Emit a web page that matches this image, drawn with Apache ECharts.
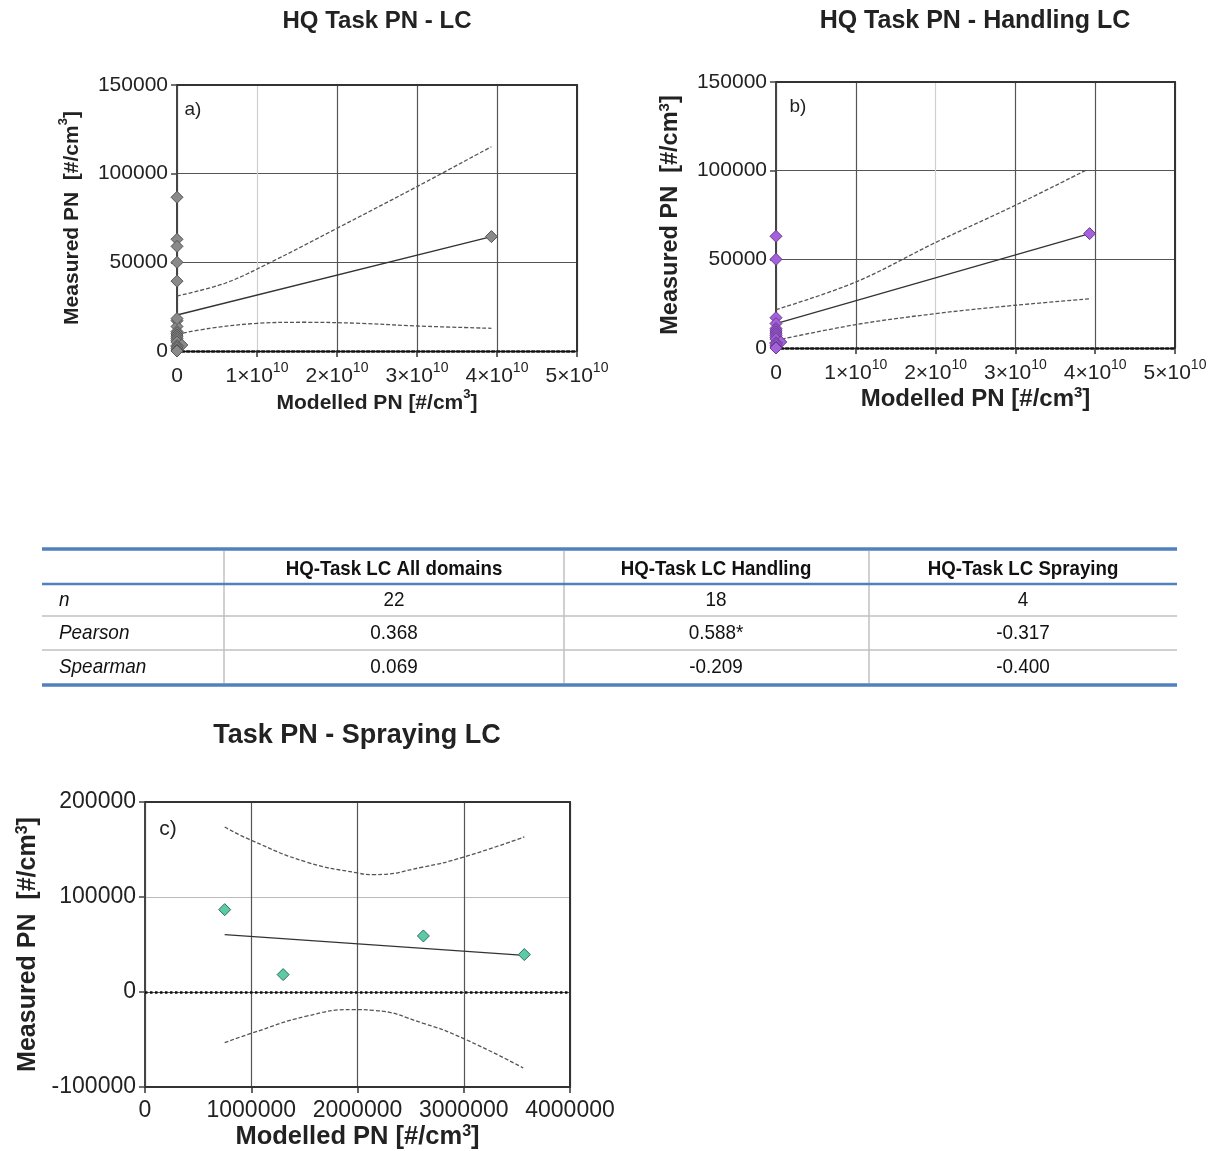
<!DOCTYPE html>
<html><head><meta charset="utf-8">
<script src="https://cdn.jsdelivr.net/npm/echarts@6/dist/echarts.min.js"></script>
<style>html,body{margin:0;padding:0;background:#fff;}#c{width:1218px;height:1151px;}</style>
</head><body><div id="c"></div>
<script>
// ---------- DATA ----------
// Chart b (Handling LC): modelled PN, measured PN
const handlingModelled = [3.93e10, 0, 0, 0, 0, 0, 0, 0, 0, 0, 0, 0, 6e8, 0, 0, 0, 0, 0];
const handlingMeasured = [64500, 63000, 50000, 17100, 13800, 11000, 10000, 9000, 8000, 7000, 6000, 5000, 3400, 3000, 2500, 1500, 500, 0];
// Chart c (Spraying LC)
const sprayModelled = [750000, 1300000, 2620000, 3570000];
const sprayMeasured = [86700, 18300, 59000, 39400];
// Regression lines and confidence bands
const regA = [[0, 20300], [3.93e10, 64500]];
const upperA = [[0, 31000], [0.6e10, 38200], [1.16e10, 49800], [2e10, 69200], [3e10, 92700], [3.93e10, 115200]];
const lowerA = [[0, 9400], [0.41e10, 12800], [1e10, 15600], [1.6e10, 16200], [2.29e10, 15600], [3e10, 14100], [3.93e10, 12800]];
const regB = [[0, 13750], [3.93e10, 64500]];
const upperB = [[0, 21600], [1e10, 37200], [2e10, 59500], [3e10, 80500], [3.9e10, 100600]];
const lowerB = [[0, 4300], [1e10, 13200], [2e10, 19400], [3e10, 24100], [3.95e10, 27800]];
const regC = [[750000, 60400], [3570000, 38600]];
const upperC = [[750000, 173700], [1000000, 159700], [1520000, 136800], [2000000, 125300], [2150000, 123600], [2620000, 131600], [3000000, 142100], [3570000, 163200]];
const lowerC = [[750000, -53300], [1000000, -43500], [1520000, -25500], [1960000, -18500], [2150000, -19300], [2620000, -33000], [3000000, -49100], [3560000, -80000]];
// Tick labels
const xTickLabelsAB = ['0', '1×10', '2×10', '3×10', '4×10', '5×10'];
const xTickExpAB = ['', '10', '10', '10', '10', '10'];
// Titles
const chartTitles = ['HQ Task PN - LC', 'HQ Task PN - Handling LC', 'Task PN - Spraying LC'];
const panelLetters = ['a)', 'b)', 'c)'];
// Table
const tableHeaders = ['', 'HQ-Task LC All domains', 'HQ-Task LC Handling', 'HQ-Task LC Spraying'];
const tableRowLabels = ['n', 'Pearson', 'Spearman'];
const tableAll = ['22', '0.368', '0.069'];
const tableHandling = ['18', '0.588*', '-0.209'];
const tableSpraying = ['4', '-0.317', '-0.400'];

// ---------- BUILD ----------
const FONT = "'Liberation Sans', Arial, sans-serif";
const TXT = '#222';
const allModelled = handlingModelled.concat(sprayModelled);
const allMeasured = handlingMeasured.concat(sprayMeasured);
const zip = (a, b) => a.map((v, i) => [v, b[i]]);

function nameRich(size) {
  return {
    b: { fontSize: size, fontWeight: 'bold', fontFamily: FONT, color: TXT, lineHeight: 26, verticalAlign: 'bottom' },
    s: { fontSize: Math.round(size * 0.62), fontWeight: 'bold', fontFamily: FONT, color: TXT, lineHeight: 12, verticalAlign: 'top' }
  };
}
const xName = '{b|Modelled PN [#/cm}{s|3}{b|]}';
const yName = '{b|Measured PN  [#/cm}{s|3}{b|]}';

function xAxisAB(grid, colors, nameSize, nameGap, margin) {
  return {
    gridIndex: grid, type: 'value', min: 0, max: 5e10, interval: 1e10, position: 'bottom',
    axisLine: { show: true, onZero: false, lineStyle: { color: '#111', width: 2.5, type: 'dotted' } },
    axisTick: { show: true, length: 6, lineStyle: { color: '#333', width: 1.5 } },
    axisLabel: {
      margin: margin,
      formatter: v => { const i = Math.round(v / 1e10); return xTickExpAB[i] ? '{m|' + xTickLabelsAB[i] + '}{s|' + xTickExpAB[i] + '}' : '{m|' + xTickLabelsAB[i] + '}'; },
      rich: {
        m: { fontSize: 21, fontFamily: FONT, color: TXT, lineHeight: 26, verticalAlign: 'bottom' },
        s: { fontSize: 14, fontFamily: FONT, color: TXT, lineHeight: 14, verticalAlign: 'top' }
      }
    },
    splitLine: { show: true, lineStyle: { color: colors, width: 1.2 } },
    name: xName, nameLocation: 'middle', nameGap: nameGap,
    nameTextStyle: { rich: nameRich(nameSize) }
  };
}
function borderX(grid) {
  return { gridIndex: grid, type: 'value', min: 0, max: 1, position: 'top',
    axisLine: { show: true, onZero: false, lineStyle: { color: '#333', width: 2 } },
    axisTick: { show: false }, axisLabel: { show: false }, splitLine: { show: false } };
}
function borderY(grid) {
  return { gridIndex: grid, type: 'value', min: 0, max: 1, position: 'right',
    axisLine: { show: true, onZero: false, lineStyle: { color: '#333', width: 2 } },
    axisTick: { show: false }, axisLabel: { show: false }, splitLine: { show: false } };
}
function yAxisMain(grid, min, max, interval, colors, labelSize, nameSize, nameGap) {
  return {
    gridIndex: grid, type: 'value', min: min, max: max, interval: interval, position: 'left',
    axisLine: { show: true, onZero: false, lineStyle: { color: '#444', width: 2 } },
    axisTick: { show: true, length: 6, lineStyle: { color: '#444', width: 1.5 } },
    axisLabel: { margin: 9, fontSize: labelSize, fontFamily: FONT, color: TXT, formatter: v => String(v) },
    splitLine: { show: true, lineStyle: { color: colors, width: 1.2 } },
    name: yName, nameLocation: 'middle', nameGap: nameGap, nameRotate: 90,
    nameTextStyle: { rich: nameRich(nameSize) }
  };
}
function scatterS(xi, yi, data, fill, border) {
  return { type: 'scatter', xAxisIndex: xi, yAxisIndex: yi, data: data, symbol: 'diamond', symbolSize: 12, z: 5,
    itemStyle: { color: fill, borderColor: border, borderWidth: 1, opacity: 1 } };
}
function lineS(xi, yi, data, dashed, extra) {
  return Object.assign({ type: 'line', xAxisIndex: xi, yAxisIndex: yi, data: data, showSymbol: false, smooth: dashed ? 0.35 : false, z: 3,
    silent: true, lineStyle: { color: dashed ? '#555' : '#333', width: 1.3, type: dashed ? [4, 2] : 'solid' } }, extra || {});
}

// graphics
const graphics = [];
const titlePos = [[377, 21, 24], [975, 21, 25], [357, 736, 27]];
chartTitles.forEach((t, i) => graphics.push({ type: 'text', x: titlePos[i][0], y: titlePos[i][1],
  style: { text: t, fill: TXT, font: 'bold ' + titlePos[i][2] + 'px ' + FONT, textAlign: 'center', align: 'center', textVerticalAlign: 'middle', verticalAlign: 'middle' } }));
const letterPos = [[193, 110, 19], [798, 107, 19], [168, 829, 21]];
panelLetters.forEach((t, i) => graphics.push({ type: 'text', x: letterPos[i][0], y: letterPos[i][1], z: 10,
  style: { text: t, fill: TXT, font: letterPos[i][2] + 'px ' + FONT, textAlign: 'center', align: 'center', textVerticalAlign: 'middle', verticalAlign: 'middle' } }));

// table
const tL = 42, tR = 1177, colX = [224, 564, 869];
const blue = '#4f81bd', grey = '#c0c0c0';
function hline(y, c, w) { graphics.push({ type: 'line', shape: { x1: tL, y1: y, x2: tR, y2: y }, style: { stroke: c, lineWidth: w } }); }
colX.forEach(x => graphics.push({ type: 'line', shape: { x1: x, y1: 551, x2: x, y2: 683 }, style: { stroke: grey, lineWidth: 1.5 } }));
hline(616, grey, 1.5); hline(650, grey, 1.5);
hline(549, blue, 3.5); hline(584, blue, 2.5); hline(685, blue, 3.5);
const colC = [0, 394, 716, 1023];
const rowY = [600, 633, 667];
tableHeaders.forEach((h, i) => { if (h) graphics.push({ type: 'text', x: colC[i], y: 569, scaleX: 0.89,
  style: { text: h, fill: '#111', font: 'bold 21px ' + FONT, textAlign: 'center', align: 'center', textVerticalAlign: 'middle', verticalAlign: 'middle' } }); });
tableRowLabels.forEach((r, j) => graphics.push({ type: 'text', x: 59, y: rowY[j], scaleX: 0.9,
  style: { text: r, fill: '#111', font: 'italic 21px ' + FONT, textAlign: 'left', align: 'left', textVerticalAlign: 'middle', verticalAlign: 'middle' } }));
[tableAll, tableHandling, tableSpraying].forEach((col, i) => col.forEach((v, j) => graphics.push({ type: 'text', x: colC[i + 1], y: rowY[j], scaleX: 0.9,
  style: { text: v, fill: '#111', font: '21px ' + FONT, textAlign: 'center', align: 'center', textVerticalAlign: 'middle', verticalAlign: 'middle' } })));

const option = {
  backgroundColor: '#fff',
  animation: false,
  grid: [
    { left: 177, top: 85, width: 400, height: 266, outerBoundsMode: 'none', containLabel: false },
    { left: 776, top: 82, width: 399, height: 266, outerBoundsMode: 'none', containLabel: false },
    { left: 145, top: 802, width: 425, height: 285, outerBoundsMode: 'none', containLabel: false }
  ],
  xAxis: [
    xAxisAB(0, ['#555', '#d0d0d0', '#555', '#555', '#555', '#555'], 21, 32, 10),
    borderX(0),
    xAxisAB(1, ['#555', '#555', '#d0d0d0', '#555', '#555', '#555'], 24, 35, 10),
    borderX(1),
    { gridIndex: 2, type: 'value', min: 0, max: 4000000, interval: 1000000, position: 'bottom',
      axisLine: { show: true, onZero: false, lineStyle: { color: '#333', width: 2 } },
      axisTick: { show: true, length: 6, lineStyle: { color: '#333', width: 1.5 } },
      axisLabel: { margin: 12, fontSize: 23, fontFamily: FONT, color: TXT, formatter: v => String(v) },
      splitLine: { show: true, lineStyle: { color: '#555', width: 1.2 } },
      name: xName, nameLocation: 'middle', nameGap: 37,
      nameTextStyle: { rich: nameRich(25.5) } },
    borderX(2)
  ],
  yAxis: [
    yAxisMain(0, 0, 150000, 50000, ['#555', '#555', '#555', '#333'], 21, 21, 94),
    borderY(0),
    yAxisMain(1, 0, 150000, 50000, ['#555', '#555', '#555', '#333'], 21, 23.5, 93),
    borderY(1),
    yAxisMain(2, -100000, 200000, 100000, ['#555', '#555', '#bbb', '#333'], 23, 25, 104),
    borderY(2)
  ],
  series: [
    lineS(0, 0, regA, false), lineS(0, 0, upperA, true), lineS(0, 0, lowerA, true),
    scatterS(0, 0, zip(allModelled, allMeasured), '#8a8a8a', '#555'),
    lineS(2, 2, regB, false), lineS(2, 2, upperB, true), lineS(2, 2, lowerB, true),
    scatterS(2, 2, zip(handlingModelled, handlingMeasured), '#a461d9', '#6b3a96'),
    lineS(4, 4, regC, false, { markLine: { silent: true, symbol: 'none', label: { show: false },
      lineStyle: { color: '#111', width: 2.5, type: 'dotted' }, data: [{ yAxis: 0 }] } }),
    lineS(4, 4, upperC, true, { smooth: 0.5 }), lineS(4, 4, lowerC, true, { smooth: 0.5 }),
    scatterS(4, 4, zip(sprayModelled, sprayMeasured), '#5cc9a7', '#2f6e5c')
  ],
  graphic: graphics
};
const chart = echarts.init(document.getElementById('c'));
chart.setOption(option);
</script></body></html>
